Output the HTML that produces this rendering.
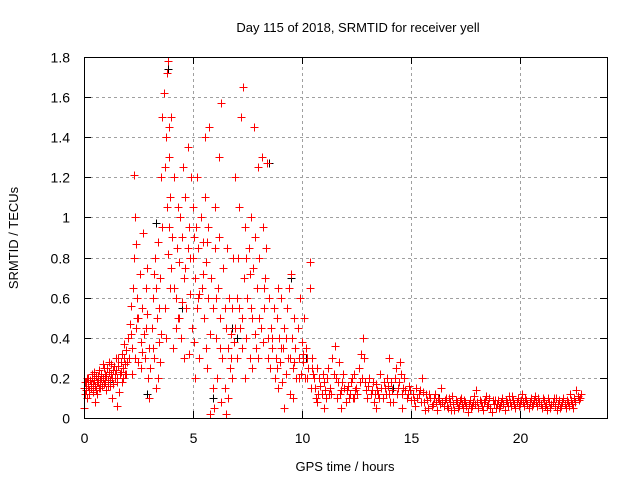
<!DOCTYPE html>
<html><head><meta charset="utf-8"><style>
body{margin:0;background:#fff}
svg{display:block;font-family:"Liberation Sans",sans-serif}
</style></head><body>
<svg id="chart" width="640" height="480" viewBox="0 0 640 480">
<rect width="640" height="480" fill="#fff"/>
<text x="358" y="32" font-size="13" text-anchor="middle">Day 115 of 2018, SRMTID for receiver yell</text>
<text transform="translate(18,238) rotate(-90)" font-size="13" text-anchor="middle">SRMTID / TECUs</text>
<text x="345" y="471" font-size="13" text-anchor="middle">GPS time / hours</text>
<g id="grid"></g><g id="ticks"></g><g id="marks" shape-rendering="crispEdges"></g>
<rect x="84.5" y="57.5" width="523" height="361" fill="none" stroke="#000" stroke-width="1"/>
</svg>
<script>
const xTicks=[0,5,10,15,20];
const yTicks=[0,0.2,0.4,0.6,0.8,1,1.2,1.4,1.6,1.8];
const yTickLabels=["0","0.2","0.4","0.6","0.8","1","1.2","1.4","1.6","1.8"];
const redHours=[0,.05,.1,.15,.2,.25,.3,.35,.4,.45,.5,.55,.6,.65,.7,.75,.8,.85,.9,.95,1,1.05,1.1,1.15,1.2,1.25,1.3,1.35,1.4,1.45,1.5,1.55,1.6,1.7,1.75,1.8,1.85,1.9,1.95,2,.02,.5,1.5,
2.05,2.1,2.15,2.2,2.25,2.3,2.3,2.35,2.4,2.45,2.5,2.5,2.55,2.6,2.65,2.7,2.75,2.8,2.85,2.9,2.95,3,3,2.2,2.6,2.9,2.4,
3.05,3.1,3.15,3.2,3.25,3.3,3.35,3.4,3.45,3.5,3.55,3.6,3.6,3.65,3.7,3.7,3.75,3.8,3.8,3.85,3.85,3.9,3.9,3.95,3.95,3.5,3.3,3.2,3.4,3.75,3.9,4,4,
4.05,4.1,4.15,4.2,4.25,4.3,4.3,4.35,4.4,4.45,4.5,4.55,4.6,4.6,4.65,4.7,4.75,4.75,4.8,4.85,4.9,4.95,5,5,5.05,5.1,5.15,5.2,5.2,5.25,5.3,5.35,5.4,5.45,5.5,5.55,5.55,5.6,5.65,5.7,5.7,5.75,5.8,5.85,5.9,5.95,6,4.2,4.5,4.8,5.3,5.1,5.6,5.9,5.8,
6,6.05,6.1,6.15,6.2,6.25,6.3,6.3,6.35,6.4,6.45,6.5,6.5,6.55,6.6,6.65,6.7,6.75,6.8,6.85,6.9,6.95,7,7,6.2,6.6,6.8,
7.05,7.1,7.15,7.2,7.25,7.3,7.35,7.4,7.45,7.5,7.55,7.6,7.65,7.7,7.75,7.8,7.85,7.9,7.95,8,8.05,8.1,8.15,8.2,8.25,8.3,8.35,8.4,8.45,8.5,7.4,7.7,8,8.2,7.1,7.6,
8.55,8.6,8.65,8.7,8.75,8.8,8.85,8.9,8.95,9,9.05,9.1,9.15,9.2,9.25,9.3,9.35,9.4,9.45,9.5,9.55,9.6,9.65,9.7,9.75,9.8,9.85,9.9,9.95,10,10.05,10.1,10.15,10.2,10.25,10.3,10.35,10.35,10.4,10.45,10.5,8.9,9.2,9.6,
10.6,10.7,10.8,10.9,11,11.1,11.2,11.3,11.4,11.5,11.55,11.6,11.7,11.8,11.9,12,12.1,12.2,12.3,12.4,12.5,12.6,12.7,12.8,12.85,12.9,13,13.1,13.2,13.3,13.4,13.5,13.6,13.7,13.8,13.9,14,14.1,14.2,14.3,14.4,14.5,14.6,14.7,14.8,14.9,15,10.7,11,11.8,12.4,13.4,14,14.6,10.65,10.95,11.25,11.65,12.05,12.35,12.65,13.05,13.35,13.75,14.05,14.35,14.75,
15.1,15.2,15.3,15.4,15.5,15.6,15.7,15.8,15.9,16,16.1,16.2,16.3,16.4,16.5,16.6,16.7,16.8,16.9,17,17.1,17.2,17.3,17.4,17.5,17.6,17.7,17.8,17.9,18,18.1,18.2,18.3,18.4,18.5,18.6,18.7,18.8,18.9,19,19.1,19.2,19.3,19.4,19.5,19.6,19.7,19.8,19.9,20,20.1,20.2,20.3,20.4,20.5,20.6,20.7,20.8,20.9,21,21.1,21.2,21.3,21.4,21.5,21.6,21.7,21.8,21.9,22,22.1,22.2,22.3,22.4,22.5,22.6,22.7,22.8,15.25,15.65,16.05,16.45,16.85,17.25,17.65,18.05,18.45,18.85,19.25,19.65,20.05,20.45,20.85,21.25,21.65,22.05,22.45];
const redValues=[.15,.12,.18,.1,.2,.14,.17,.22,.13,.19,.16,.21,.12,.18,.24,.15,.2,.27,.17,.22,.14,.25,.19,.28,.16,.22,.1,.24,.2,.3,.18,.26,.13,.23,.32,.2,.37,.27,.22,.4,.05,.08,.06,
.3,.47,.56,.35,.65,.8,1.21,1.0,.45,.6,.5,.28,.72,.38,.55,.92,.42,.3,.65,.52,.2,.1,.35,.22,.25,.75,.87,
.25,.45,.6,.3,.8,.15,.5,.88,.38,.7,1.2,.95,1.5,1.62,1.25,.55,1.4,1.72,1.05,1.78,.82,1.45,1.3,.65,1.1,.28,.65,.72,.2,.4,.95,.75,1.5,
.9,.35,1.2,.6,.85,1.05,.5,.78,1.0,.4,.9,1.25,.7,.3,1.1,.55,1.35,.85,.95,.62,1.2,.45,.8,1.05,.38,.7,.95,.55,1.2,.85,.3,1.0,.65,.88,.5,1.1,1.4,.78,.25,.6,.95,1.45,.42,.7,.15,.05,.85,.45,.58,.32,.62,.2,.35,.55,.02,
1.05,.4,.2,.65,1.3,.5,1.57,.08,.3,.75,.15,.02,.45,.85,.35,.6,.25,.42,.55,.8,.38,1.2,.6,.3,.9,.1,.2,
.8,1.05,.45,1.5,.35,1.65,.7,.95,.4,.6,.85,.3,1.0,.5,.75,1.45,.9,.35,.65,1.25,.8,.45,1.3,.95,.55,.7,.85,1.27,.4,.6,.2,.25,.3,.38,.55,.72,
.25,.45,.35,.55,.2,.3,.5,.15,.4,.28,.6,.18,.35,.45,.22,.55,.3,.65,.12,.72,.4,.25,.5,.35,.2,.45,.3,.6,.22,.38,.28,.5,.2,.35,.3,.25,.78,.65,.15,.3,.22,.65,.05,.1,
.15,.08,.2,.12,.18,.1,.25,.15,.3,.36,.2,.1,.28,.14,.22,.08,.16,.12,.2,.1,.15,.25,.32,.4,.3,.18,.1,.2,.14,.08,.17,.12,.22,.1,.15,.2,.12,.18,.08,.25,.15,.28,.12,.2,.1,.16,.09,.25,.05,.05,.22,.05,.3,.05,.1,.22,.12,.18,.14,.1,.18,.16,.12,.18,.08,.12,.14,
.12,.06,.1,.14,.2,.08,.12,.05,.1,.07,.12,.04,.09,.15,.06,.1,.05,.08,.11,.04,.08,.06,.1,.05,.08,.03,.09,.06,.11,.14,.05,.08,.04,.09,.06,.1,.03,.07,.05,.09,.06,.1,.04,.08,.11,.06,.09,.05,.1,.07,.12,.06,.09,.05,.1,.07,.11,.06,.08,.05,.09,.07,.1,.05,.08,.06,.04,.09,.06,.1,.05,.08,.12,.07,.1,.14,.09,.12,.15,.04,.1,.08,.04,.09,.07,.08,.11,.09,.07,.11,.09,.08,.1,.04,.1,.07,.05];
const extraHours=[.03,.08,.13,.18,.23,.28,.33,.38,.43,.48,.53,.58,.63,.68,.73,.78,.83,.88,.93,.98,1.03,1.08,1.13,1.18,1.23,1.28,1.33,1.38,1.43,1.48,1.53,1.58,1.63,1.68,1.73,1.78,1.83,1.88,1.93,1.98,
2.15,2.35,2.45,2.65,2.85,3.15,3.45,3.55,4.15,4.35,4.65,4.85,5.05,5.25,5.45,5.65,6.05,6.25,6.45,6.75,6.95,7.25,7.45,7.65,7.85,8.05,8.25,8.45,8.65,8.85,9.05,9.25,9.45,9.65,9.85,10.05,10.25,10.45,
10.55,10.75,10.85,11.05,11.15,11.35,11.45,11.75,11.85,11.95,12.15,12.25,12.45,12.55,12.75,12.95,13.15,13.25,13.45,13.55,13.65,13.85,13.95,14.15,14.25,14.45,14.55,14.65,14.85,14.95,
15.15,15.35,15.45,15.55,15.75,15.85,15.95,16.15,16.25,16.35,16.55,16.65,16.75,16.95,17.05,17.15,17.35,17.45,17.55,17.75,17.85,17.95,18.15,18.25,18.35,18.55,18.65,18.75,18.95,19.05,19.15,19.35,19.45,19.55,19.75,19.85,19.95,20.15,20.25,20.35,20.55,20.65,20.75,20.95,21.05,21.15,21.35,21.45,21.55,21.75,21.85,21.95,22.15,22.25,22.35,22.55,22.65,22.75];
const extraValues=[.18,.14,.2,.16,.12,.19,.15,.2,.17,.23,.14,.18,.21,.15,.19,.22,.16,.2,.25,.18,.21,.16,.23,.19,.27,.2,.17,.26,.22,.24,.2,.3,.22,.28,.18,.25,.3,.22,.34,.28,
.42,.3,.5,.33,.45,.35,.55,.42,.65,.5,.75,.8,.9,.6,.72,.88,.6,.35,.55,.3,.45,.5,.8,.55,.42,.5,.65,.3,.4,.25,.35,.4,.3,.28,.2,.32,.2,.25,
.2,.12,.16,.14,.2,.12,.22,.12,.18,.15,.1,.18,.14,.12,.2,.14,.12,.18,.14,.1,.15,.12,.16,.14,.2,.18,.22,.15,.12,.14,
.09,.12,.08,.13,.09,.12,.06,.08,.1,.07,.09,.06,.1,.07,.09,.05,.07,.09,.06,.05,.08,.07,.09,.06,.08,.07,.05,.09,.07,.05,.08,.09,.06,.08,.07,.08,.06,.08,.1,.07,.06,.09,.08,.07,.1,.06,.08,.07,.1,.07,.05,.08,.09,.06,.09,.08,.11,.1];
const blackHours=[3.85,7.8,8.5,5.9,2.9,6.8,9.5,3.3,4.5,7.0,1.2,10.2,14.2,16.3];
const blackValues=[1.74,1.45,1.27,.1,.12,.45,.7,.97,.55,.4,.18,.3,.15,.1];
const X0=84,X1=607,Y0=418,Y1=57,XMAX=24,YMAX=1.8;
const xs=h=>X0+(X1-X0)*h/XMAX, ys=v=>Y0-(Y0-Y1)*v/YMAX;
const NS='http://www.w3.org/2000/svg';
function mk(tag,attrs,parent){const e=document.createElementNS(NS,tag);for(const k in attrs)e.setAttribute(k,attrs[k]);parent.appendChild(e);return e;}
const grid=document.getElementById('grid'),ticks=document.getElementById('ticks'),marks=document.getElementById('marks');
yTicks.forEach((v,i)=>{const y=Math.round(ys(v))+0.5;
 if(i>0&&i<yTicks.length-1){const g=mk('line',{x1:X0,x2:X1,y1:y,y2:y,stroke:'#a0a0a0','stroke-dasharray':'3,3'},grid);
 
 }
 mk('line',{x1:X0,x2:X0+7,y1:y,y2:y,stroke:'#000'},ticks);mk('line',{x1:X1,x2:X1-7,y1:y,y2:y,stroke:'#000'},ticks);
 const t=mk('text',{x:70,y:y+5,'font-size':14,'text-anchor':'end'},ticks);t.textContent=yTickLabels[i];
 
 });
xTicks.forEach(h=>{const x=Math.round(xs(h))+0.5;
 if(h>0){const g=mk('line',{x1:x,x2:x,y1:Y0,y2:Y1,stroke:'#a0a0a0','stroke-dasharray':'3,3'},grid);
 
 }
 mk('line',{x1:x,x2:x,y1:Y0,y2:Y0-7,stroke:'#000'},ticks);mk('line',{x1:x,x2:x,y1:Y1,y2:Y1+7,stroke:'#000'},ticks);
 const t=mk('text',{x:x,y:443,'font-size':14,'text-anchor':'middle'},ticks);t.textContent=String(h);
 
 });
function plus(h,v,c){const x=Math.round(xs(h))+0.5,y=Math.round(ys(v))+0.5;
 const p=mk('path',{d:`M${x-4},${y}h8M${x},${y-4}v8`,stroke:c,'stroke-width':1,fill:'none'},marks);
 
 }
blackHours.forEach((h,i)=>plus(h,blackValues[i],'#000'));
redHours.forEach((h,i)=>plus(h,redValues[i],'#f00'));
extraHours.forEach((h,i)=>plus(h,extraValues[i],'#f00'));
</script>
</body></html>
